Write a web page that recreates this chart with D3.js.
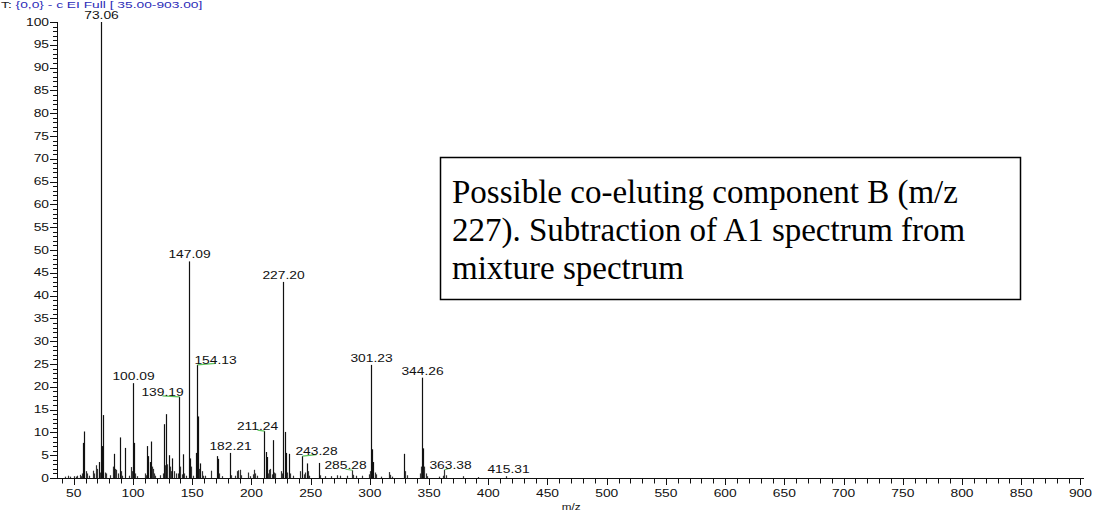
<!DOCTYPE html>
<html>
<head>
<meta charset="utf-8">
<script src="https://cdn.jsdelivr.net/npm/d3@7"></script>
<style>
  body { margin: 0; background: #fff; }
  svg { display: block; }
</style>
</head>
<body>
<svg id="chart" width="1094" height="513"></svg>
<script>
// peak list (m/z and relative abundance)
const mzValues = [43, 45, 47, 50, 52, 53, 55, 56, 57, 58, 59, 60, 61, 63, 66, 67, 69, 70, 71, 72,
  73, 74, 75, 76, 77, 81, 83, 84, 85, 86, 87, 89, 90, 91, 93, 97, 98, 99, 100, 101,
  102, 103, 110, 111, 112, 113, 114, 115, 116, 117, 118, 119, 123, 125, 126, 127, 128, 129, 130, 131,
  132, 133, 135, 136, 138, 139, 140, 141, 142, 143, 145, 147, 148, 149, 151, 153, 154, 155, 156, 157,
  158, 159, 161, 166, 171, 172, 173, 175, 182, 183, 186, 188, 189, 190, 191, 197, 199, 201, 202, 203,
  205, 211, 212, 213, 214, 215, 216, 217, 218, 219, 220, 225, 226, 227, 228, 229, 230, 232, 233, 235,
  241, 243, 244, 245, 247, 248, 249, 257, 258, 262, 267, 272, 275, 281, 285, 286, 288, 293, 299, 300,
  301, 302, 303, 304, 305, 309, 316, 317, 319, 329, 330, 331, 342, 343, 344, 345, 346, 347, 348, 358,
  362, 363, 364, 379, 391, 415];
const abundance = [0.3, 0.5, 0.3, 0.4, 0.3, 0.5, 0.7, 0.4, 1.0, 7.7, 10.2, 1.5, 1.0, 0.5, 1.6, 1.0, 2.8, 2.0, 3.5, 1.2,
  100, 7.0, 13.8, 1.2, 1.0, 0.6, 2.5, 5.3, 2.0, 1.8, 1.0, 8.9, 1.5, 0.5, 6.6, 0.5, 2.4, 1.5, 20.8, 7.7,
  1.0, 0.4, 1.0, 0.6, 7.0, 4.8, 3.5, 8.0, 2.5, 2.0, 1.0, 0.5, 0.6, 1.0, 11.8, 2.8, 14.0, 3.0, 5.0, 2.5,
  1.5, 4.3, 1.5, 1.0, 1.0, 17.8, 2.5, 0.8, 5.2, 1.0, 0.5, 47.5, 4.3, 2.5, 0.5, 5.5, 24.8, 13.5, 2.0, 3.2,
  1.5, 0.5, 0.5, 1.6, 4.8, 4.2, 1.0, 0.4, 5.5, 0.6, 0.5, 1.5, 1.7, 1.8, 0.6, 1.2, 0.4, 0.8, 1.8, 1.0,
  0.5, 10.3, 5.7, 4.6, 1.0, 1.8, 2.0, 0.8, 8.3, 1.2, 1.0, 1.5, 1.0, 43.0, 10.1, 5.5, 1.2, 5.3, 1.0, 0.5,
  1.5, 4.8, 0.8, 1.2, 3.2, 1.5, 0.5, 3.3, 0.6, 0.4, 0.4, 0.6, 0.5, 0.5, 1.7, 0.7, 0.5, 0.5, 0.8, 1.5,
  24.8, 6.3, 3.5, 1.2, 0.8, 0.3, 1.3, 0.7, 0.3, 5.3, 1.5, 0.6, 1.0, 2.5, 22.0, 6.5, 2.5, 1.0, 0.4, 0.3,
  0.5, 1.8, 0.6, 0.4, 0.2, 0.4];

// labelled peaks
const peakLabels = ["73.06", "147.09", "227.20", "154.13", "301.23", "344.26", "100.09", "139.19",
  "211.24", "182.21", "243.28", "285.28", "363.38", "415.31"];
const labelMz = [73, 147, 227, 154, 301, 344, 100, 139, 211, 182, 243, 285, 363, 415];

const yTickValues = d3.range(0, 101, 5);
const xTickValues = d3.range(50, 901, 50);
const titleParts = ["T: ", "{0,0}  - c EI Full [ 35.00-903.00]"];
const xTitle = "m/z";
const noteLines = ["Possible co-eluting component B (m/z", "227). Subtraction of A1 spectrum from", "mixture spectrum"];

const svg = d3.select("#chart");
const font = "'Liberation Sans', Arial, sans-serif";
const stretch = 1.38;

const x = d3.scaleLinear().domain([35, 903]).range([56, 1084]);
const y = d3.scaleLinear().domain([0, 100]).range([478, 22]);

// stretched text helper (original chart text is wide)
function wideText(g, px, py, str, opts = {}) {
  const t = g.append("g").attr("transform", `translate(${px},${py})`)
    .append("text")
    .attr("transform", `scale(${opts.sx || stretch},1)`)
    .attr("text-anchor", opts.anchor || "middle")
    .attr("font-family", font)
    .attr("font-size", opts.size || 10)
    .attr("fill", opts.fill || "#111");
  if (str != null) t.text(str);
  return t;
}

// title
const title = wideText(svg, 1, 8, null, { anchor: "start", size: 9.5, sx: 1.45 });
title.append("tspan").attr("fill", "#222").text(titleParts[0]);
title.append("tspan").attr("fill", "#2b2bb8").text(titleParts[1]);

// y axis
const yAxis = svg.append("g");
yAxis.append("line").attr("x1", 57.5).attr("x2", 57.5).attr("y1", y(100)).attr("y2", y(0))
  .attr("stroke", "#111");
yAxis.selectAll("line.minor").data(d3.range(0, 101, 1)).enter().append("line")
  .attr("class", "minor")
  .attr("x1", d => d % 5 === 0 ? 50 : 53).attr("x2", 57.5)
  .attr("y1", d => Math.round(y(d)) + 0.5).attr("y2", d => Math.round(y(d)) + 0.5)
  .attr("stroke", "#111");
yTickValues.forEach(v => wideText(yAxis, 49, y(v) + 3.5, v, { anchor: "end" }));

// x axis
const xAxis = svg.append("g");
xAxis.append("line").attr("x1", 56).attr("x2", 1084).attr("y1", 478.5).attr("y2", 478.5)
  .attr("stroke", "#111");
xAxis.selectAll("line.tick").data(d3.range(40, 901, 10)).enter().append("line")
  .attr("class", "tick")
  .attr("x1", d => Math.round(x(d)) + 0.5).attr("x2", d => Math.round(x(d)) + 0.5)
  .attr("y1", 478.5).attr("y2", d => d % 50 === 0 ? 485 : 483.5)
  .attr("stroke", "#111");
xTickValues.forEach(v => wideText(xAxis, x(v), 497, v));
wideText(xAxis, x(470), 510, xTitle, { size: 9, sx: 1.3 });

// peaks
const peaks = mzValues.map((m, i) => ({ mz: m, ab: abundance[i] }));
svg.append("g").selectAll("line").data(peaks).enter().append("line")
  .attr("x1", d => Math.round(x(d.mz)) + 0.5).attr("x2", d => Math.round(x(d.mz)) + 0.5)
  .attr("y1", y(0)).attr("y2", d => y(d.ab))
  .attr("stroke", d => d.ab > 3 ? "#111" : "#333")
  .attr("stroke-width", 1.2);

// peak labels; some are shifted with a green leader underneath
const shift = {
  "154.13": { dx: 18, lead: [0, 18] },
  "139.19": { dx: -17, lead: [-17, 0] },
  "211.24": { dx: -7, lead: [-7, 0] },
  "243.28": { dx: 14, lead: [0, 14] },
  "285.28": { dx: -7, lead: [-7, 0] },
  "363.38": { dx: 6, lead: [0, 6] },
  "415.31": { dx: 2 }
};
const labG = svg.append("g");
peakLabels.forEach((lab, i) => {
  const m = labelMz[i];
  const ab = abundance[mzValues.indexOf(m)];
  const px = Math.round(x(m)) + 0.5, py = y(ab);
  const s = shift[lab] || { dx: 0 };
  if (s.lead) {
    labG.append("line")
      .attr("x1", px + s.lead[0]).attr("x2", px + s.lead[1])
      .attr("y1", py + (s.lead[0] < 0 ? -1 : 0)).attr("y2", py + (s.lead[0] < 0 ? 0 : -1.5))
      .attr("stroke", "#5cc55c").attr("stroke-width", 1.2);
    wideText(labG, px + s.dx, py - 1, lab);
  } else {
    wideText(labG, px + s.dx, py - 3, lab);
  }
});

// note box
svg.append("rect").attr("x", 440.5).attr("y", 157.5).attr("width", 580).attr("height", 142)
  .attr("fill", "#fff").attr("stroke", "#000").attr("stroke-width", 1.5);
svg.append("g").selectAll("text").data(noteLines).enter().append("text")
  .attr("x", 452).attr("y", (d, i) => 203 + i * 38)
  .attr("font-family", "'Liberation Serif', 'Times New Roman', serif")
  .attr("font-size", 33).attr("fill", "#000")
  .text(d => d);
</script>
</body>
</html>
